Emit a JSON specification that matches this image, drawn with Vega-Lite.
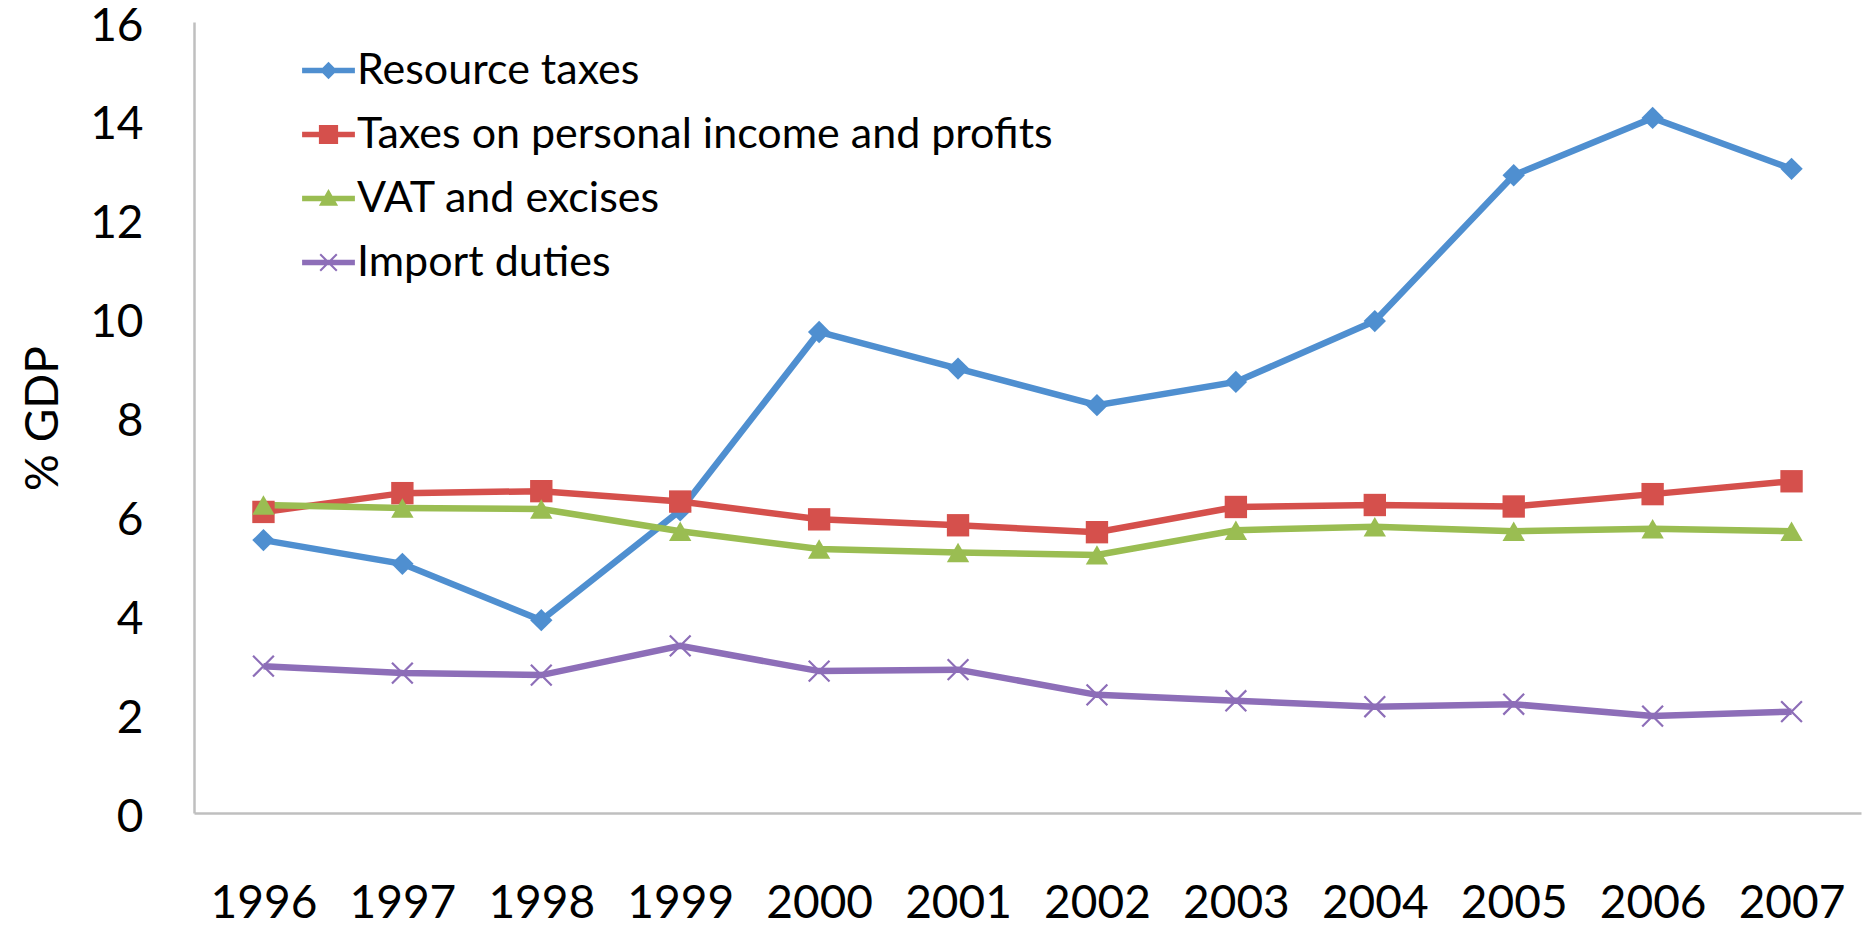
{
  "$schema": "https://vega.github.io/schema/vega-lite/v6.json",
  "width": 1667,
  "height": 791,
  "autosize": "none",
  "padding": {"left": 194, "top": 22, "right": 11, "bottom": 117},
  "background": "white",
  "config": {
    "view": {"stroke": null},
    "font": "Lato"
  },
  "data": {
    "values": [
      {"year": "1996", "series": "Resource taxes", "value": 5.52},
      {"year": "1997", "series": "Resource taxes", "value": 5.04},
      {"year": "1998", "series": "Resource taxes", "value": 3.90},
      {"year": "1999", "series": "Resource taxes", "value": 6.12},
      {"year": "2000", "series": "Resource taxes", "value": 9.73},
      {"year": "2001", "series": "Resource taxes", "value": 8.99},
      {"year": "2002", "series": "Resource taxes", "value": 8.25},
      {"year": "2003", "series": "Resource taxes", "value": 8.72},
      {"year": "2004", "series": "Resource taxes", "value": 9.95},
      {"year": "2005", "series": "Resource taxes", "value": 12.9},
      {"year": "2006", "series": "Resource taxes", "value": 14.06},
      {"year": "2007", "series": "Resource taxes", "value": 13.03},
      {"year": "1996", "series": "Taxes on personal income and profits", "value": 6.09},
      {"year": "1997", "series": "Taxes on personal income and profits", "value": 6.47},
      {"year": "1998", "series": "Taxes on personal income and profits", "value": 6.51},
      {"year": "1999", "series": "Taxes on personal income and profits", "value": 6.30},
      {"year": "2000", "series": "Taxes on personal income and profits", "value": 5.94},
      {"year": "2001", "series": "Taxes on personal income and profits", "value": 5.82},
      {"year": "2002", "series": "Taxes on personal income and profits", "value": 5.68},
      {"year": "2003", "series": "Taxes on personal income and profits", "value": 6.19},
      {"year": "2004", "series": "Taxes on personal income and profits", "value": 6.23},
      {"year": "2005", "series": "Taxes on personal income and profits", "value": 6.20},
      {"year": "2006", "series": "Taxes on personal income and profits", "value": 6.45},
      {"year": "2007", "series": "Taxes on personal income and profits", "value": 6.71},
      {"year": "1996", "series": "VAT and excises", "value": 6.23},
      {"year": "1997", "series": "VAT and excises", "value": 6.17},
      {"year": "1998", "series": "VAT and excises", "value": 6.15},
      {"year": "1999", "series": "VAT and excises", "value": 5.70},
      {"year": "2000", "series": "VAT and excises", "value": 5.34},
      {"year": "2001", "series": "VAT and excises", "value": 5.27},
      {"year": "2002", "series": "VAT and excises", "value": 5.22},
      {"year": "2003", "series": "VAT and excises", "value": 5.72},
      {"year": "2004", "series": "VAT and excises", "value": 5.79},
      {"year": "2005", "series": "VAT and excises", "value": 5.70},
      {"year": "2006", "series": "VAT and excises", "value": 5.75},
      {"year": "2007", "series": "VAT and excises", "value": 5.70},
      {"year": "1996", "series": "Import duties", "value": 2.97},
      {"year": "1997", "series": "Import duties", "value": 2.83},
      {"year": "1998", "series": "Import duties", "value": 2.79},
      {"year": "1999", "series": "Import duties", "value": 3.38},
      {"year": "2000", "series": "Import duties", "value": 2.87},
      {"year": "2001", "series": "Import duties", "value": 2.90},
      {"year": "2002", "series": "Import duties", "value": 2.39},
      {"year": "2003", "series": "Import duties", "value": 2.27},
      {"year": "2004", "series": "Import duties", "value": 2.15},
      {"year": "2005", "series": "Import duties", "value": 2.20},
      {"year": "2006", "series": "Import duties", "value": 1.96},
      {"year": "2007", "series": "Import duties", "value": 2.05}
    ]
  },
  "encoding": {
    "x": {
      "field": "year",
      "type": "ordinal",
      "scale": {"type": "point", "padding": 0.5},
      "axis": {
        "title": null,
        "labelAngle": 0,
        "labelFont": "Lato",
        "labelFontSize": 46,
        "labelColor": "#000000",
        "labelBaseline": "alphabetic",
        "labelPadding": 104,
        "ticks": false,
        "grid": false,
        "domainColor": "#BFBFBF",
        "domainWidth": 2.5
      }
    },
    "y": {
      "field": "value",
      "type": "quantitative",
      "scale": {"domain": [0, 16], "nice": false},
      "axis": {
        "title": "% GDP",
        "values": [0, 2, 4, 6, 8, 10, 12, 14, 16],
        "labelFont": "Lato",
        "labelFontSize": 46,
        "labelColor": "#000000",
        "labelPadding": 51,
        "labelOffset": 4,
        "ticks": false,
        "grid": false,
        "domainColor": "#BFBFBF",
        "domainWidth": 2.5,
        "titleFont": "Lato",
        "titleFontSize": 46,
        "titleFontWeight": "normal",
        "titleColor": "#000000",
        "titleAngle": -90,
        "titleAlign": "center",
        "titleBaseline": "middle",
        "titleX": -151,
        "titleY": 396
      }
    }
  },
  "layer": [
    {
      "mark": {"type": "line", "strokeWidth": 6.5},
      "encoding": {
        "color": {
          "field": "series",
          "type": "nominal",
          "scale": {
            "domain": ["Resource taxes", "Taxes on personal income and profits", "VAT and excises", "Import duties"],
            "range": ["#4F8FD0", "#D5504C", "#9ABD52", "#8D6EB8"]
          }
        }
      }
    },
    {
      "mark": {"type": "point", "filled": true, "opacity": 1, "size": 500},
      "encoding": {
        "shape": {
          "field": "series",
          "type": "nominal",
          "scale": {
            "domain": ["Import duties", "VAT and excises", "Taxes on personal income and profits", "Resource taxes"],
            "range": ["M-1,-0.86L-0.86,-1L1,0.86L0.86,1Z M-1,0.86L0.86,-1L1,-0.86L-0.86,1Z", "triangle-up", "square", "diamond"]
          },
          "legend": null
        },
        "color": {
          "field": "series",
          "type": "nominal",
          "scale": {
            "domain": ["Resource taxes", "Taxes on personal income and profits", "VAT and excises", "Import duties"],
            "range": ["#4F8FD0", "#D5504C", "#9ABD52", "#8D6EB8"]
          },
          "legend": {
            "title": null,
            "orient": "none",
            "legendX": 113,
            "legendY": 27,
            "padding": 0,
            "symbolSize": 576,
            "symbolStrokeWidth": 0,
            "symbolOpacity": 1,
            "labelFont": "Lato",
            "labelFontSize": 43,
            "labelColor": "#000000",
            "labelOffset": 7,
            "labelLimit": 0,
            "rowPadding": 20,
            "encode": {
              "symbols": {
                "update": {
                  "fill": {"scale": "color", "field": "value"},
                  "shape": {"signal": "datum.value === 'Resource taxes' ? 'M-2.2,-0.22H2.2V0.22H-2.2Z M0,-0.72L0.72,0L0,0.72L-0.72,0Z' : datum.value === 'Taxes on personal income and profits' ? 'M-2.2,-0.22H2.2V0.22H-2.2Z M-0.8,-0.8H0.8V0.8H-0.8Z' : datum.value === 'VAT and excises' ? 'M-2.2,-0.22H2.2V0.22H-2.2Z M0,-0.8L0.8,0.6L-0.8,0.6Z' : 'M-2.2,-0.22H2.2V0.22H-2.2Z M-0.75,-0.63L-0.63,-0.75L0.75,0.63L0.63,0.75Z M-0.75,0.63L0.63,-0.75L0.75,-0.63L-0.63,0.75Z'"}
                }
              }
            }
          }
        }
      }
    }
  ]
}
